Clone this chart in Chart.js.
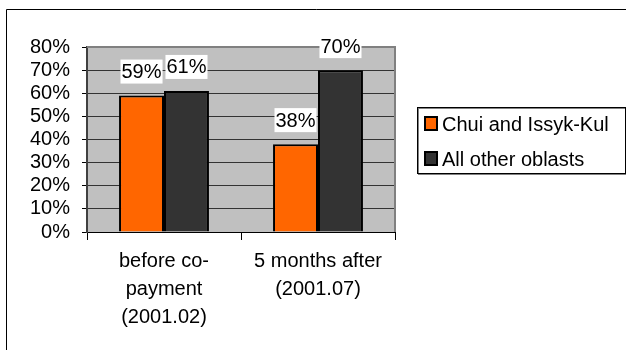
<!DOCTYPE html>
<html>
<head>
<meta charset="utf-8">
<script src="https://cdn.jsdelivr.net/npm/chart.js@4.4.1/dist/chart.umd.min.js"></script>
<style>
  html, body { margin: 0; padding: 0; background: #fff; }
  #wrap { position: relative; width: 626px; height: 350px; }
</style>
</head>
<body>
<div id="wrap"><canvas id="c" width="626" height="350"></canvas></div>
<script>
// Share of respondents, by period
const periods = [
  ['before co-', 'payment', '(2001.02)'],
  ['5 months after', '(2001.07)']
];
const seriesNames = ['Chui and Issyk-Kul', 'All other oblasts'];
const chuiIssykKul = [59, 38];
const otherOblasts = [61, 70];
const seriesColors = ['#FF6600', '#333333'];

const FONT = '"Liberation Sans", Arial, sans-serif';
const FONT_SIZE = 20;

// Plot background, frame, value labels and the boxed legend
const decorations = {
  id: 'decorations',
  beforeDraw(chart) {
    const { ctx, chartArea: a } = chart;
    ctx.save();
    ctx.fillStyle = '#fff';
    ctx.fillRect(0, 0, chart.width, chart.height);
    ctx.fillStyle = '#C0C0C0';
    ctx.fillRect(a.left, a.top, a.right - a.left, a.bottom - a.top);
    // outer frame
    ctx.strokeStyle = '#000';
    ctx.lineWidth = 1;
    ctx.beginPath();
    ctx.moveTo(6.5, chart.height);
    ctx.lineTo(6.5, 9.5);
    ctx.lineTo(chart.width, 9.5);
    ctx.stroke();
    ctx.restore();
  },
  afterDraw(chart) {
    const { ctx, chartArea: a } = chart;
    ctx.save();
    // plot area border (top and right)
    ctx.strokeStyle = '#808080';
    ctx.lineWidth = 2;
    ctx.beginPath();
    ctx.moveTo(a.left, a.top);
    ctx.lineTo(a.right, a.top);
    ctx.lineTo(a.right, a.bottom);
    ctx.stroke();

    // value labels on white boxes
    ctx.font = FONT_SIZE + 'px ' + FONT;
    ctx.textAlign = 'center';
    ctx.textBaseline = 'middle';
    chart.data.datasets.forEach((ds, di) => {
      chart.getDatasetMeta(di).data.forEach((bar, i) => {
        const txt = ds.data[i] + '%';
        const w = ctx.measureText(txt).width + 2;
        const cy = bar.y - 23;
        ctx.fillStyle = '#fff';
        ctx.fillRect(bar.x - w / 2, cy - 13, w, 24);
        ctx.fillStyle = '#000';
        ctx.fillText(txt, bar.x, cy);
      });
    });

    // legend
    const lx = 417, ly = 107, lw = 208, lh = 66;
    ctx.fillStyle = '#fff';
    ctx.fillRect(lx, ly, lw, lh);
    ctx.strokeStyle = '#808080';
    ctx.lineWidth = 1;
    ctx.strokeRect(lx + 1.5, ly + 1.5, lw, lh);
    ctx.strokeStyle = '#000';
    ctx.strokeRect(lx + 0.5, ly + 0.5, lw, lh);
    ctx.textAlign = 'left';
    chart.data.datasets.forEach((ds, di) => {
      const cy = ly + 17 + di * 35;
      ctx.fillStyle = ds.backgroundColor;
      ctx.fillRect(lx + 8, cy - 7, 12, 13);
      ctx.strokeStyle = '#000';
      ctx.lineWidth = 2;
      ctx.strokeRect(lx + 8, cy - 7, 12, 13);
      ctx.fillStyle = '#000';
      ctx.fillText(ds.label, lx + 25, cy + 1);
    });
    ctx.restore();
  }
};

new Chart(document.getElementById('c'), {
  type: 'bar',
  data: {
    labels: periods,
    datasets: [
      { label: seriesNames[0], data: chuiIssykKul, backgroundColor: seriesColors[0] },
      { label: seriesNames[1], data: otherOblasts, backgroundColor: seriesColors[1] }
    ]
  },
  options: {
    responsive: false,
    animation: false,
    events: [],
    devicePixelRatio: 1,
    layout: { padding: { left: 0, top: 47, right: 231, bottom: 0 } },
    datasets: {
      bar: {
        borderColor: '#000',
        borderWidth: 2,
        categoryPercentage: 0.584,
        barPercentage: 1
      }
    },
    plugins: {
      legend: { display: false },
      tooltip: { enabled: false },
      title: { display: false }
    },
    scales: {
      x: {
        offset: true,
        afterFit(s) { s.height = 118; },
        grid: {
          offset: true,
          drawOnChartArea: false,
          drawTicks: true,
          tickLength: 8,
          tickColor: '#000',
          tickWidth: 1
        },
        border: { display: true, color: '#000', width: 1 },
        ticks: {
          color: '#000',
          padding: 8,
          maxRotation: 0,
          autoSkip: false,
          font: { family: FONT, size: FONT_SIZE, lineHeight: 1.38 }
        }
      },
      y: {
        min: 0,
        max: 80,
        afterFit(s) { s.width = 87; },
        grid: {
          color: (c) => (c.tick && c.tick.value === 80 ? 'rgba(0,0,0,0)' : '#333333'),
          lineWidth: 1,
          drawTicks: true,
          tickLength: 5,
          tickColor: '#000'
        },
        border: { display: true, color: '#404040', width: 2 },
        ticks: {
          stepSize: 10,
          autoSkip: false,
          color: '#000',
          padding: 12,
          font: { family: FONT, size: FONT_SIZE },
          callback: (v) => v + '%'
        }
      }
    }
  },
  plugins: [decorations]
});
</script>
</body>
</html>
